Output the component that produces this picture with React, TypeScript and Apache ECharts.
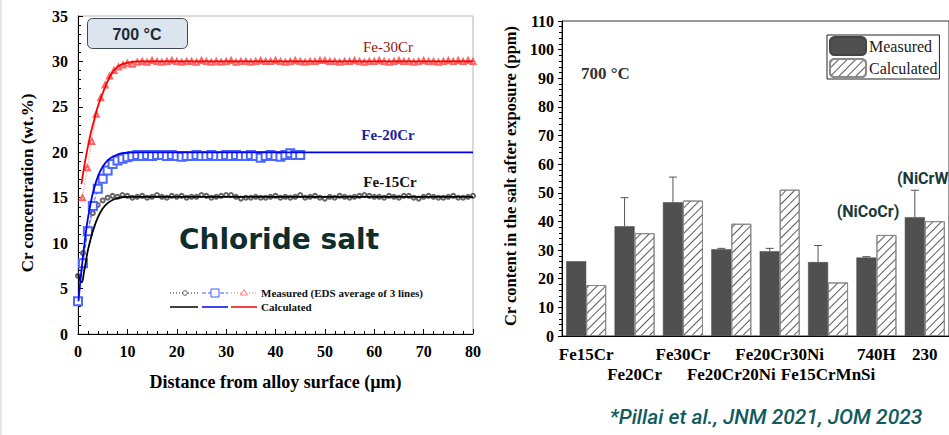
import React, { useEffect, useRef } from "react";
import * as echarts from "echarts";

// ---------- Left chart data (Cr concentration profiles) ----------
const blackMeasX = [0,1,2,3,4,5,6,7,8,9,10,11,12,13,14,15,16,17,18,19,20,21,22,23,24,25,26,27,28,29,30,31,32,33,34,35,36,37,38,39,40,41,42,43,44,45,46,47,48,49,50,51,52,53,54,55,56,57,58,59,60,61,62,63,64,65,66,67,68,69,70,71,72,73,74,75,76,77,78,79,80];
const blackMeasY = [6.4,8.9,11.4,13.3,14.2,14.7,15.0,15.2,15.1,15.3,15.2,
  15.0,15.1,15.2,15.0,15.1,15.3,15.1,15.0,15.2,15.1,
  15.2,15.0,15.1,15.1,15.3,15.2,15.0,15.1,15.2,15.3,
  15.3,15.1,14.9,15.0,15.0,15.1,15.0,15.0,15.1,15.2,
  15.0,15.1,15.0,15.1,15.3,15.0,15.1,15.2,15.0,14.9,
  15.1,15.0,15.2,15.1,15.0,15.1,15.2,15.3,15.2,15.1,
  15.1,15.0,15.2,15.1,15.0,15.2,15.2,15.0,14.9,15.1,
  15.2,15.1,15.0,15.0,15.1,15.2,15.0,15.0,15.1,15.2];

const blueMeasX = [0,1,2,3,4,5,6,7,8,9,10,11,12,13,14,15,16,17,18,19,20,21,22,23,24,25,26,27,28,29,30,31,32,33,34,35,36,37,38,39,40,41,42,43,44,45];
const blueMeasY = [3.6,7.8,11.3,14.1,16.0,17.1,18.0,18.7,19.1,19.3,
  19.45,19.6,19.7,19.6,19.7,19.6,19.7,19.7,19.6,19.7,
  19.6,19.5,19.6,19.6,19.7,19.6,19.6,19.7,19.6,19.6,
  19.7,19.6,19.7,19.6,19.6,19.7,19.6,19.4,19.6,19.7,
  19.6,19.5,19.7,19.9,19.7,19.7];

const redMeasX = [0.9,1.9,2.8,3.7,4.6,5.5,6.4,7.3,8.2,9.1,10,11,12,13,14,15,16,17,18,19,20,21,22,23,24,25,26,27,28,29,30,31,32,33,34,35,36,37,38,39,40,41,42,43,44,45,46,47,48,49,50,51,52,53,54,55,56,57,58,59,60,61,62,63,64,65,66,67,68,69,70,71,72,73,74,75,76,77,78,79,80];
const redMeasY = [15.0,18.3,21.2,24.2,26.0,27.4,28.4,29.0,29.4,29.6,
  29.8,29.7,29.9,30.0,29.9,30.1,30.0,29.9,30.0,30.1,
  30.0,29.9,30.0,30.0,29.9,30.1,30.0,29.9,30.0,29.9,
  30.0,30.1,29.9,30.0,30.0,29.9,30.0,30.1,30.0,30.0,
  30.1,30.0,29.9,30.0,30.1,30.0,29.9,30.0,30.0,30.1,
  30.1,30.0,30.0,29.9,30.0,30.0,30.1,30.0,29.9,30.0,
  30.0,30.1,30.0,29.9,30.0,30.1,30.0,30.0,29.9,30.0,
  30.1,30.0,30.0,29.9,30.0,30.1,30.0,30.1,30.0,30.1,30.0];

const redCalcX = [0.7,1,1.5,2,2.5,3,4,5,6,7,8,9,10,11,12,14,80];
const redCalcY = [16.5,17.6,19.2,20.6,21.9,23.0,25.0,26.5,27.8,28.8,29.4,29.7,29.85,29.95,30,30,30];
const blueCalcX = [0.1,0.5,1,1.5,2,2.5,3,4,5,6,7,8,9,10,12,80];
const blueCalcY = [3.6,6.0,8.5,10.8,12.7,14.2,15.5,17.3,18.4,19.1,19.5,19.75,19.9,19.95,20,20];
const blackCalcX = [0,0.4,0.8,1.2,1.6,2,3,4,5,6,7,8,9,10,12,80];
const blackCalcY = [6.6,5.9,5.7,6.8,8.0,9.2,11.3,12.8,13.8,14.4,14.75,14.95,15.05,15.1,15.1,15.1];

const leftXTicks = { min: 0, max: 80, interval: 10 };
const leftYTicks = { min: 0, max: 35, interval: 5 };

// ---------- Right chart data (Cr in salt) ----------
const alloys = ["Fe15Cr","Fe20Cr","Fe30Cr","Fe20Cr20Ni","Fe20Cr30Ni","Fe15CrMnSi","740H","230"];
const labelRow = [1,2,1,2,1,2,1,1];
const measured = [26.1,38.3,46.7,30.3,29.6,25.8,27.4,41.5];
const measuredErrTop = [26.1,48.3,55.5,30.6,30.6,31.6,27.7,50.9];
const calculated = [17.8,35.9,47.3,39.2,51.1,18.7,35.3,40.1];
const rightYTicks = { min: 0, max: 110, interval: 10 };

const SERIF = "'Liberation Serif', 'Times New Roman', serif";
const SANS = "'Open Sans', 'Noto Sans', sans-serif";

function zip(xs: number[], ys: number[]) {
  const n = Math.min(xs.length, ys.length);
  const out: number[][] = [];
  for (let i = 0; i < n; i++) out.push([xs[i], ys[i]]);
  return out;
}

export default function App() {
  const ref = useRef<HTMLDivElement>(null);
  useEffect(() => {
    if (!ref.current) return;
    const chart = echarts.init(ref.current, null, { renderer: "svg" });

    const hatch = {
      symbol: "rect",
      symbolSize: 1,
      dashArrayX: [1, 0],
      dashArrayY: [1, 5],
      rotation: -Math.PI / 4,
      color: "#5a5a5a",
      backgroundColor: "#fff",
    };

    const legendY1 = 293;
    const legendY2 = 307;

    const option: any = {
      animation: false,
      backgroundColor: "#ffffff",
      grid: [
        { left: 78, top: 16, width: 395, height: 318, show: true, borderColor: "#b5b5b5", borderWidth: 1, containLabel: false },
        { left: 562, top: 21, width: 392, height: 315, show: true, borderColor: "#333", borderWidth: 1, containLabel: false },
      ],
      legend: [
        {
          data: ["Measured", "Calculated"],
          left: 827,
          top: 35,
          orient: "vertical",
          itemWidth: 36,
          itemHeight: 18,
          itemGap: 2,
          padding: [1, 2, 1, 2],
          borderColor: "#222",
          borderWidth: 1,
          backgroundColor: "#fff",
          borderRadius: 0,
          selectedMode: false,
          textStyle: { fontFamily: SERIF, fontSize: 16, color: "#1a1a1a", padding: [0, 0, 0, -2] },
        },
      ],
      xAxis: [
        {
          gridIndex: 0,
          type: "value",
          min: leftXTicks.min,
          max: leftXTicks.max,
          interval: leftXTicks.interval,
          axisLine: { lineStyle: { color: "#000", width: 1 } },
          axisTick: { inside: true, length: 5, lineStyle: { color: "#000" } },
          minorTick: { show: true, splitNumber: 5, length: 3, lineStyle: { color: "#000" } },
          splitLine: { show: false },
          axisLabel: { fontFamily: SERIF, fontWeight: "bold", fontSize: 16, color: "#000", margin: 9 },
          name: "Distance from alloy surface (\u00b5m)",
          nameLocation: "middle",
          nameGap: 39,
          nameTextStyle: { fontFamily: SERIF, fontWeight: "bold", fontSize: 18, color: "#000" },
        },
        {
          gridIndex: 1,
          type: "category",
          data: alloys,
          axisLine: { lineStyle: { color: "#000", width: 1 } },
          axisTick: { alignWithLabel: true, length: 4, lineStyle: { color: "#000" } },
          axisLabel: {
            interval: 0,
            fontFamily: SERIF,
            fontWeight: "bold",
            fontSize: 17,
            color: "#000",
            margin: 8,
            lineHeight: 20,
            formatter: (v: string, idx: number) => (labelRow[idx] === 2 ? "\n" + v : v),
          },
        },
      ],
      yAxis: [
        {
          gridIndex: 0,
          type: "value",
          min: leftYTicks.min,
          max: leftYTicks.max,
          interval: leftYTicks.interval,
          axisLine: { show: true, lineStyle: { color: "#000", width: 1 } },
          axisTick: { show: true, inside: true, length: 5, lineStyle: { color: "#000" } },
          minorTick: { show: true, splitNumber: 5, length: 3, lineStyle: { color: "#000" } },
          splitLine: { show: false },
          axisLabel: { fontFamily: SERIF, fontWeight: "bold", fontSize: 16, color: "#000", margin: 10 },
        },
        {
          gridIndex: 1,
          type: "value",
          min: rightYTicks.min,
          max: rightYTicks.max,
          interval: rightYTicks.interval,
          axisLine: { show: true, lineStyle: { color: "#000", width: 1 } },
          axisTick: { show: true, length: 4, lineStyle: { color: "#000" } },
          minorTick: { show: true, splitNumber: 5, length: 3, lineStyle: { color: "#000" } },
          splitLine: { show: false },
          axisLabel: { fontFamily: SERIF, fontWeight: "bold", fontSize: 16, color: "#000", margin: 8 },
        },
      ],
      series: [
        {
          name: "Fe-15Cr measured",
          type: "line",
          xAxisIndex: 0,
          yAxisIndex: 0,
          data: zip(blackMeasX, blackMeasY),
          symbol: "emptyCircle",
          symbolSize: 4,
          itemStyle: { color: "#666", borderWidth: 0.7 },
          lineStyle: { color: "#444", width: 0.8, type: "dotted" },
          z: 2,
        },
        {
          name: "Fe-20Cr measured",
          type: "line",
          xAxisIndex: 0,
          yAxisIndex: 0,
          data: zip(blueMeasX, blueMeasY),
          symbol: "emptyRect",
          symbolSize: 8,
          itemStyle: { color: "#4a66ff", borderWidth: 1 },
          lineStyle: { color: "#4a66ff", width: 1, type: "dashed" },
          z: 2,
        },
        {
          name: "Fe-30Cr measured",
          type: "line",
          xAxisIndex: 0,
          yAxisIndex: 0,
          data: zip(redMeasX, redMeasY),
          symbol: "emptyTriangle",
          symbolSize: 5,
          itemStyle: { color: "#ff6464", borderWidth: 0.7 },
          lineStyle: { color: "#ff7a7a", width: 0.8, type: "dotted" },
          z: 2,
        },
        {
          name: "Fe-15Cr calculated",
          type: "line",
          xAxisIndex: 0,
          yAxisIndex: 0,
          data: zip(blackCalcX, blackCalcY),
          showSymbol: false,
          smooth: 0.3,
          lineStyle: { color: "#000", width: 1.8 },
          z: 3,
        },
        {
          name: "Fe-20Cr calculated",
          type: "line",
          xAxisIndex: 0,
          yAxisIndex: 0,
          data: zip(blueCalcX, blueCalcY),
          showSymbol: false,
          smooth: 0.3,
          lineStyle: { color: "#0000f0", width: 1.8 },
          z: 3,
        },
        {
          name: "Fe-30Cr calculated",
          type: "line",
          xAxisIndex: 0,
          yAxisIndex: 0,
          data: zip(redCalcX, redCalcY),
          showSymbol: false,
          smooth: 0.3,
          lineStyle: { color: "#ff0000", width: 1.8 },
          z: 3,
        },
        {
          name: "Measured",
          type: "bar",
          xAxisIndex: 1,
          yAxisIndex: 1,
          data: measured,
          barWidth: 20,
          barGap: "0%",
          itemStyle: { color: "#505050", borderColor: "#444", borderWidth: 0.5 },
        },
        {
          name: "Calculated",
          type: "bar",
          xAxisIndex: 1,
          yAxisIndex: 1,
          data: calculated,
          barWidth: 20,
          barGap: "0%",
          itemStyle: { color: "#ffffff", borderColor: "#8a8a8a", borderWidth: 1, decal: hatch },
        },
        {
          name: "Measured error",
          type: "custom",
          xAxisIndex: 1,
          yAxisIndex: 1,
          data: measured.map((m, i) => [i, m, measuredErrTop[i]]),
          encode: { x: 0, y: [1, 2] },
          z: 5,
          renderItem: (params: any, api: any) => {
            const i = api.value(0);
            const lo = api.coord([i, api.value(1)]);
            const hi = api.coord([i, api.value(2)]);
            const x = lo[0] - 10;
            if (lo[1] - hi[1] < 0.5) return { type: "group", children: [] };
            return {
              type: "group",
              children: [
                { type: "line", shape: { x1: x, y1: lo[1], x2: x, y2: hi[1] }, style: { stroke: "#555", lineWidth: 1 } },
                { type: "line", shape: { x1: x - 4, y1: hi[1], x2: x + 4, y2: hi[1] }, style: { stroke: "#555", lineWidth: 1 } },
              ],
            };
          },
        },
      ],
      graphic: [
        { type: "rect", shape: { x: 0, y: 0, width: 2, height: 435 }, style: { fill: "#e6e6e6" }, silent: true },
        // 700 °C box
        { type: "rect", shape: { x: 87.5, y: 18.5, width: 100, height: 30, r: 5 }, style: { fill: "#dce5ee", stroke: "#3b4a54", lineWidth: 1 }, z: 10 },
        { type: "text", x: 137, y: 34, style: { text: "700 \u00b0C", fontFamily: "'Liberation Sans', Arial, sans-serif", fontSize: 16, fontWeight: "bold", fill: "#1c2a33", align: "center", verticalAlign: "middle" }, z: 11 },
        // series labels
        { type: "text", x: 388, y: 47, style: { text: "Fe-30Cr", fontFamily: SERIF, fontSize: 15, fill: "#a01010", align: "center", verticalAlign: "middle" }, z: 10 },
        { type: "text", x: 388, y: 135, style: { text: "Fe-20Cr", fontFamily: SERIF, fontSize: 15, fontWeight: "bold", fill: "#1c1ca6", align: "center", verticalAlign: "middle" }, z: 10 },
        { type: "text", x: 390, y: 182, style: { text: "Fe-15Cr", fontFamily: SERIF, fontSize: 15, fontWeight: "bold", fill: "#111", align: "center", verticalAlign: "middle" }, z: 10 },
        // Chloride salt
        { type: "text", x: 279, y: 239, style: { text: "Chloride salt", fontFamily: "'DejaVu Sans', sans-serif", fontSize: 28, fontWeight: "bold", fill: "#0f2d2c", align: "center", verticalAlign: "middle" }, z: 10 },
        // left legend row 1
        { type: "line", shape: { x1: 170, y1: legendY1, x2: 198, y2: legendY1 }, style: { stroke: "#222", lineWidth: 1, lineDash: [1, 2] }, z: 10 },
        { type: "circle", shape: { cx: 185, cy: legendY1, r: 2.3 }, style: { fill: "#fff", stroke: "#333", lineWidth: 0.8 }, z: 11 },
        { type: "line", shape: { x1: 202, y1: legendY1, x2: 228, y2: legendY1 }, style: { stroke: "#3d5cff", lineWidth: 1, lineDash: [4, 2] }, z: 10 },
        { type: "rect", shape: { x: 211, y: legendY1 - 4, width: 8, height: 8 }, style: { fill: "#fff", stroke: "#3d5cff", lineWidth: 1 }, z: 11 },
        { type: "line", shape: { x1: 231, y1: legendY1, x2: 257, y2: legendY1 }, style: { stroke: "#ff6a6a", lineWidth: 1, lineDash: [1, 2] }, z: 10 },
        { type: "polygon", shape: { points: [[244, legendY1 - 3.5], [247.5, legendY1 + 2], [240.5, legendY1 + 2]] }, style: { fill: "#fff", stroke: "#ff5a5a", lineWidth: 0.8 }, z: 11 },
        { type: "text", x: 261, y: legendY1, style: { text: "Measured (EDS average of 3 lines)", fontFamily: SERIF, fontSize: 11, fontWeight: "bold", fill: "#111", align: "left", verticalAlign: "middle" }, z: 10 },
        // left legend row 2
        { type: "line", shape: { x1: 170, y1: legendY2, x2: 198, y2: legendY2 }, style: { stroke: "#000", lineWidth: 1.5 }, z: 10 },
        { type: "line", shape: { x1: 202, y1: legendY2, x2: 228, y2: legendY2 }, style: { stroke: "#0000f0", lineWidth: 1.5 }, z: 10 },
        { type: "line", shape: { x1: 231, y1: legendY2, x2: 257, y2: legendY2 }, style: { stroke: "#ff0000", lineWidth: 1.5 }, z: 10 },
        { type: "text", x: 261, y: legendY2, style: { text: "Calculated", fontFamily: SERIF, fontSize: 11, fontWeight: "bold", fill: "#111", align: "left", verticalAlign: "middle" }, z: 10 },
        // left y title
        { type: "text", x: 27, y: 183, rotation: Math.PI / 2, style: { text: "Cr concentration (wt.%)", fontFamily: SERIF, fontSize: 17, fontWeight: "bold", fill: "#000", align: "center", verticalAlign: "middle" }, z: 10 },
        // right y title
        { type: "text", x: 510, y: 176, rotation: Math.PI / 2, style: { text: "Cr content in the salt after exposure (ppm)", fontFamily: SERIF, fontSize: 16.5, fontWeight: "bold", fill: "#000", align: "center", verticalAlign: "middle" }, z: 10 },
        // right annotations
        { type: "text", x: 581, y: 73, style: { text: "700 \u00b0C", fontFamily: SERIF, fontSize: 17, fontWeight: "bold", fill: "#333", align: "left", verticalAlign: "middle" }, z: 10 },
        { type: "text", x: 868, y: 211, style: { text: "(NiCoCr)", fontFamily: "Roboto, sans-serif", fontSize: 16, fontWeight: "bold", fill: "#173a3a", align: "center", verticalAlign: "middle" }, z: 10 },
        { type: "text", x: 897, y: 178, style: { text: "(NiCrW", fontFamily: "Roboto, sans-serif", fontSize: 16, fontWeight: "bold", fill: "#173a3a", align: "left", verticalAlign: "middle" }, z: 10 },
        // citation
        { type: "text", x: 766, y: 417, style: { text: "*Pillai et al., JNM 2021, JOM 2023", fontFamily: "Roboto, sans-serif", fontSize: 21, fontStyle: "italic", fontWeight: 500, fill: "#0f5b5d", align: "center", verticalAlign: "middle" }, z: 10 },
      ],
    };

    chart.setOption(option);
    return () => chart.dispose();
  }, []);

  return (
    <div
      ref={ref}
      style={{ position: "fixed", left: 0, top: 0, width: 949, height: 435, overflow: "hidden", background: "#fff" }}
    />
  );
}
